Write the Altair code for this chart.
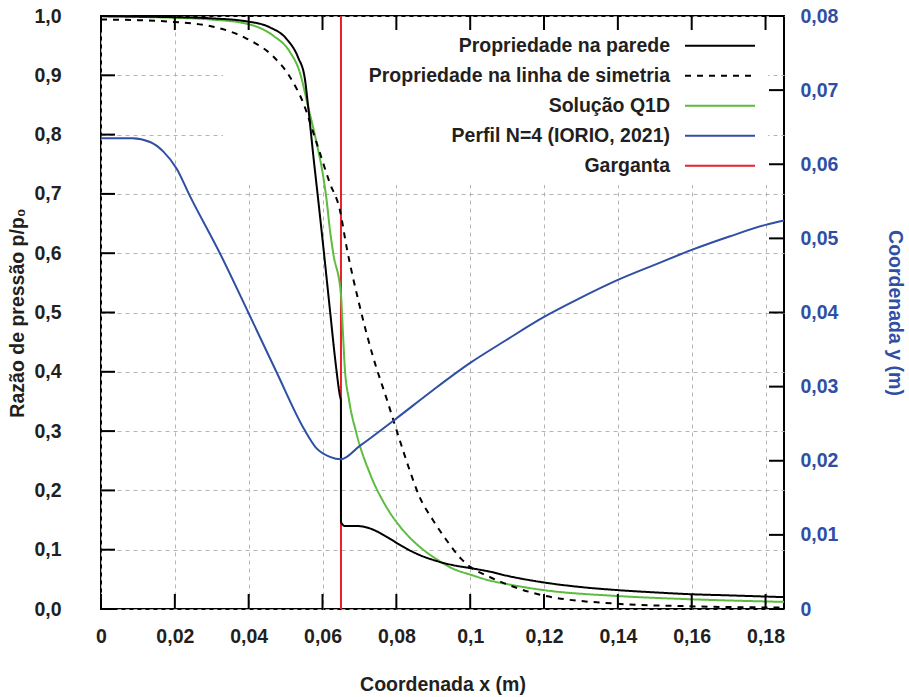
import altair as alt
import pandas as pd

# ---------------- data ----------------
x_max = 0.185
throat_x = 0.065

wall_x = [0.0, 0.01, 0.02, 0.03, 0.0394, 0.0457, 0.0503, 0.0534, 0.0552, 0.0561, 0.0575,
          0.0591, 0.0604, 0.062, 0.0636, 0.0648, 0.06499, 0.0650, 0.0655, 0.066, 0.0692, 0.0728,
          0.0773, 0.0818, 0.0863, 0.0909, 0.0953, 0.1, 0.1053, 0.11, 0.1197, 0.13, 0.1396,
          0.15, 0.1594, 0.17, 0.185]
wall_p = [1.0, 0.999, 0.998, 0.996, 0.991, 0.981, 0.961, 0.930, 0.895, 0.848, 0.765,
          0.675, 0.600, 0.505, 0.412, 0.357, 0.352, 0.147, 0.142, 0.140, 0.140, 0.136,
          0.122, 0.105, 0.091, 0.081, 0.074, 0.069, 0.063, 0.056, 0.045, 0.037, 0.032,
          0.028, 0.025, 0.023, 0.020]

sym_x = [0.0, 0.01, 0.0196, 0.0304, 0.0394, 0.0466, 0.0511, 0.0548, 0.0584, 0.062, 0.0647,
         0.0665, 0.0701, 0.0737, 0.0775, 0.0809, 0.0836, 0.0863, 0.0899, 0.0936, 0.0975,
         0.1, 0.1053, 0.1197, 0.1396, 0.1594, 0.185]
sym_p = [0.994, 0.993, 0.990, 0.982, 0.962, 0.932, 0.898, 0.853, 0.786, 0.718, 0.673,
         0.611, 0.510, 0.425, 0.352, 0.285, 0.234, 0.189, 0.150, 0.116, 0.085,
         0.071, 0.054, 0.023, 0.009, 0.0046, 0.0024]

q1d_x = [0.0, 0.02, 0.03, 0.0394, 0.0466, 0.0511, 0.0539, 0.0561, 0.0584, 0.0602, 0.0611,
         0.062, 0.0629, 0.065, 0.0655, 0.066, 0.0672, 0.0692, 0.0728, 0.0773, 0.0818,
         0.0863, 0.0909, 0.0953, 0.1, 0.1053, 0.11, 0.1197, 0.1396, 0.1594, 0.185]
q1d_p = [0.999, 0.997, 0.994, 0.987, 0.967, 0.940, 0.904, 0.847, 0.786, 0.729, 0.690,
         0.640, 0.600, 0.530, 0.470, 0.410, 0.352, 0.296, 0.229, 0.172, 0.133,
         0.105, 0.084, 0.068, 0.058, 0.048, 0.042, 0.032, 0.022, 0.0165, 0.012]

prof_x = [0.0, 0.0085, 0.0133, 0.0169, 0.0205, 0.024, 0.0322, 0.0399, 0.0475, 0.0552,
          0.0584, 0.062, 0.065, 0.0701, 0.08, 0.0899, 0.1, 0.1098, 0.12, 0.1296, 0.14,
          0.1499, 0.16, 0.1702, 0.18, 0.185]
prof_y = [0.0635, 0.0635, 0.0630, 0.0617, 0.0594, 0.0558, 0.0480, 0.0400, 0.0320, 0.0241,
          0.02166, 0.02053, 0.0202, 0.0220, 0.02571, 0.02952, 0.0332, 0.03629, 0.0394,
          0.0419, 0.04439, 0.04642, 0.04844, 0.05025, 0.05182, 0.0524]

series_names = ["Propriedade na parede", "Propriedade na linha de simetria",
                "Solução Q1D", "Perfil N=4 (IORIO, 2021)", "Garganta"]
series_colors = ["#000000", "#000000", "#5dbb3f", "#2f4fa5", "#e8202a"]
series_dash = [[1, 0], [6, 6], [1, 0], [1, 0], [1, 0]]

x_ticks = [0, 0.02, 0.04, 0.06, 0.08, 0.1, 0.12, 0.14, 0.16, 0.18]
y_ticks = [0, 0.1, 0.2, 0.3, 0.4, 0.5, 0.6, 0.7, 0.8, 0.9, 1.0]
yr_ticks = [0, 0.01, 0.02, 0.03, 0.04, 0.05, 0.06, 0.07, 0.08]

x_title = "Coordenada x (m)"
y_title = "Razão de pressão p/p₀"
yr_title = "Coordenada y (m)"

# ---------------- layout ----------------
W, H = 683, 593
FONT = "Liberation Sans"
FS = 19.5
BLUE = "#2f4fa5"
TXT = "#231f20"


def frame(xs, ys, col):
    return pd.DataFrame({"x": xs, col: ys, "i": list(range(len(xs)))})


wall_df = frame(wall_x, wall_p, "p")
sym_df = frame(sym_x, sym_p, "p")
q1d_df = frame(q1d_x, q1d_p, "p")
prof_df = frame(prof_x, prof_y, "yr")
throat_df = pd.DataFrame({"x": [throat_x]})
xt_df = pd.DataFrame({"x": x_ticks})
yt_df = pd.DataFrame({"p": y_ticks})
yrt_df = pd.DataFrame({"yr": yr_ticks})

X = alt.X("x:Q", scale=alt.Scale(domain=[0, x_max], nice=False, zero=False),
          axis=alt.Axis(values=x_ticks, title=x_title, grid=True, ticks=False, tickSize=0,
                        domain=False, labelPadding=18, titlePadding=30,
                        labelExpr="replace(format(datum.value, '~g'), '.', ',')"))
Y = alt.Y("p:Q", scale=alt.Scale(domain=[0, 1], nice=False),
          axis=alt.Axis(values=y_ticks, title=y_title, grid=True, ticks=False, tickSize=0,
                        domain=False, labelPadding=40, titlePadding=6,
                        labelExpr="replace(format(datum.value, '.1f'), '.', ',')"))
YR = alt.Y("yr:Q", scale=alt.Scale(domain=[0, 0.08], nice=False),
           axis=alt.Axis(values=yr_ticks, title=yr_title, orient="right", grid=False,
                         ticks=False, tickSize=0, domain=False, labelPadding=16,
                         titlePadding=47, labelColor=BLUE, titleColor=BLUE,
                         labelExpr="replace(format(datum.value, '~g'), '.', ',')"))

# white box of the key (hides the grid behind it)
key_box = alt.Chart(throat_df).mark_rect(color="white").encode(
    x=alt.value(122), x2=alt.value(667), y=alt.value(2), y2=alt.value(169))

throat = alt.Chart(throat_df).mark_rule(color=series_colors[4], strokeWidth=2).encode(
    x=X, y=alt.value(0), y2=alt.value(H))


def curve(df, k):
    return alt.Chart(df).mark_line(color=series_colors[k], strokeWidth=2,
                                   strokeDash=series_dash[k],
                                   interpolate="monotone").encode(
        x=X, y=Y, order="i:Q")


green = curve(q1d_df, 2)
dashed = curve(sym_df, 1)
wall = curve(wall_df, 0)

tick_style = dict(color="black", strokeWidth=2)
bot_ticks = alt.Chart(xt_df).mark_rule(**tick_style).encode(x=X, y=alt.value(H), y2=alt.value(H - 15))
top_ticks = alt.Chart(xt_df).mark_rule(**tick_style).encode(x=X, y=alt.value(0), y2=alt.value(14))
left_ticks = alt.Chart(yt_df).mark_rule(**tick_style).encode(y=Y, x=alt.value(0), x2=alt.value(14))

legend_layers = []
for k, name in enumerate(series_names):
    ly = 29.7 + 30 * k
    legend_layers.append(
        alt.Chart(throat_df).mark_text(text=name, align="right", baseline="middle",
                                       font=FONT, fontSize=FS, fontWeight="bold",
                                       color=TXT).encode(
            x=alt.value(569), y=alt.value(ly)))
    legend_layers.append(
        alt.Chart(throat_df).mark_rule(color=series_colors[k], strokeWidth=2,
                                       strokeDash=series_dash[k]).encode(
            x=alt.value(584), x2=alt.value(654), y=alt.value(ly)))

left_group = alt.layer(key_box, throat, green, dashed, wall, bot_ticks, top_ticks,
                       left_ticks, *legend_layers)

profile = alt.Chart(prof_df).mark_line(color=BLUE, strokeWidth=2,
                                       interpolate="monotone").encode(
    x=X, y=YR, order="i:Q")
right_ticks = alt.Chart(yrt_df).mark_rule(**tick_style).encode(
    y=YR, x=alt.value(W), x2=alt.value(W - 15))
right_group = alt.layer(profile, right_ticks)

chart = alt.layer(left_group, right_group).resolve_scale(y="independent").properties(
    width=W, height=H,
    padding={"left": 101, "top": 16, "right": 909 - 101 - W, "bottom": 697 - 16 - H},
    autosize=alt.AutoSizeParams(type="none"),
    background="white",
).configure_view(stroke="black", strokeWidth=2).configure_axis(
    labelFont=FONT, titleFont=FONT, labelFontSize=FS, titleFontSize=FS,
    labelFontWeight="bold", titleFontWeight="bold", labelColor=TXT,
    titleColor=TXT, gridColor="#b4b4b4", gridDash=[4, 4], gridWidth=1,
    labelFlush=False, labelOverlap=False,
)

chart.save("out.html", embed_options={"renderer": "svg", "actions": False})
